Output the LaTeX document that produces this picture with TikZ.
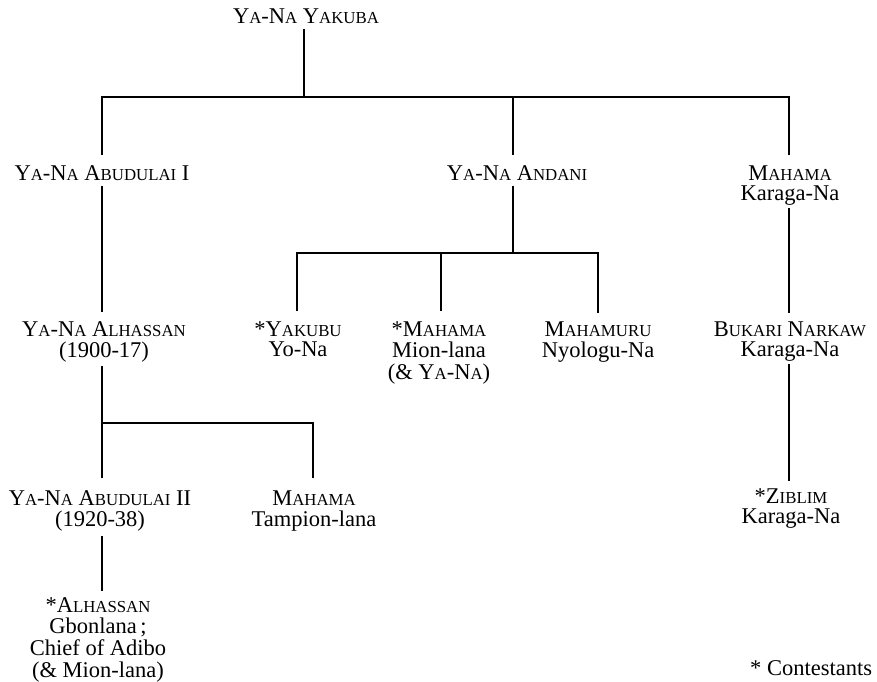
\documentclass[tikz,border=0pt]{standalone}
\usepackage{fontspec}
\setmainfont{Liberation Serif}
\newcommand\sm[1]{{\fontsize{16.8}{20.5}\selectfont #1}}
\newcommand\nm[1]{\begin{tabular}[t]{@{}c@{}}#1\end{tabular}}
\tikzset{
  person/.style={inner sep=0pt, outer sep=0pt, anchor=base, font=\fontsize{22.5}{20.5}\selectfont},
  link/.style={line width=2pt, line cap=butt, line join=miter}
}
\begin{document}
\begin{tikzpicture}[x=1pt, y=-1pt]
\useasboundingbox (0,0) rectangle (877,681);
% nodes
\node[person] (top) at (306,23) {\nm{Y\sm{A}-N\sm{A} Y\sm{AKUBA}}};
\node[person] (abd1) at (102,180) {\nm{Y\sm{A}-N\sm{A} A\sm{BUDULAI} I}};
\node[person] (andani) at (517,180) {\nm{Y\sm{A}-N\sm{A} A\sm{NDANI}}};
\node[person] (mahK) at (790,180) {\nm{M\sm{AHAMA}\\Karaga-Na}};
\node[person] (alh) at (104,336) {\nm{Y\sm{A}-N\sm{A} A\sm{LHASSAN}\\(1900-17)}};
\node[person] (yak) at (298,336) {\nm{*Y\sm{AKUBU}\\Yo-Na}};
\node[person] (mion) at (439,336) {\nm{*M\sm{AHAMA}\\Mion-lana\\(\& Y\sm{A}-N\sm{A})}};
\node[person] (mhm) at (598,336) {\nm{M\sm{AHAMURU}\\Nyologu-Na}};
\node[person] (bukari) at (790,336) {\nm{B\sm{UKARI} N\sm{ARKAW}\\Karaga-Na}};
\node[person] (abd2) at (100,505) {\nm{Y\sm{A}-N\sm{A} A\sm{BUDULAI} II\\(1920-38)}};
\node[person] (tamp) at (314,505) {\nm{M\sm{AHAMA}\\Tampion-lana}};
\node[person] (zib) at (791,503) {\nm{*Z\sm{IBLIM}\\Karaga-Na}};
\node[person] (alh2) at (98,612) {\nm{*A\sm{LHASSAN}\\Gbonlana\,;\\Chief of Adibo\\(\& Mion-lana)}};
\node[person, anchor=base east] (note) at (872,675) {* Contestants};
% junctions
\coordinate (h1) at (304,97);
\coordinate (h1l) at (102,97);
\coordinate (h1m) at (513,97);
\coordinate (h1r) at (789,97);
\coordinate (h2) at (513,253);
\coordinate (h2l) at (297,253);
\coordinate (h2m) at (441,253);
\coordinate (h2r) at (598,253);
\coordinate (h3) at (102,423);
\coordinate (h3r) at (313,423);
% connectors
\draw[link] (top.south -| h1) -- (h1);
\draw[link] ([yshift=10pt]abd1.north -| h1l) |- (h1r) -- ([yshift=10pt]mahK.north -| h1r);
\draw[link] (h1m) -- ([yshift=10pt]andani.north -| h1m);
\draw[link] (abd1.south -| h1l) -- ([yshift=9pt]alh.north -| h1l);
\draw[link] (andani.south -| h2) -- (h2);
\draw[link] ([yshift=10pt]yak.north -| h2l) |- (h2r) -- ([yshift=8pt]mhm.north -| h2r);
\draw[link] (h2m) -- ([yshift=10pt]mion.north -| h2m);
\draw[link] ([yshift=-1pt]mahK.south -| h1r) -- ([yshift=8pt]bukari.north -| h1r);
\draw[link] ([yshift=-2pt]alh.south -| h3) -- ([yshift=12pt]abd2.north -| h3);
\draw[link] (h3) -- (h3r) -- ([yshift=12pt]tamp.north -| h3r);
\draw[link] ([yshift=-3pt]abd2.south -| h3) -- ([yshift=6pt]alh2.north -| h3);
\draw[link] ([yshift=-1pt]bukari.south -| h1r) -- ([yshift=7pt]zib.north -| h1r);
\end{tikzpicture}
\end{document}
